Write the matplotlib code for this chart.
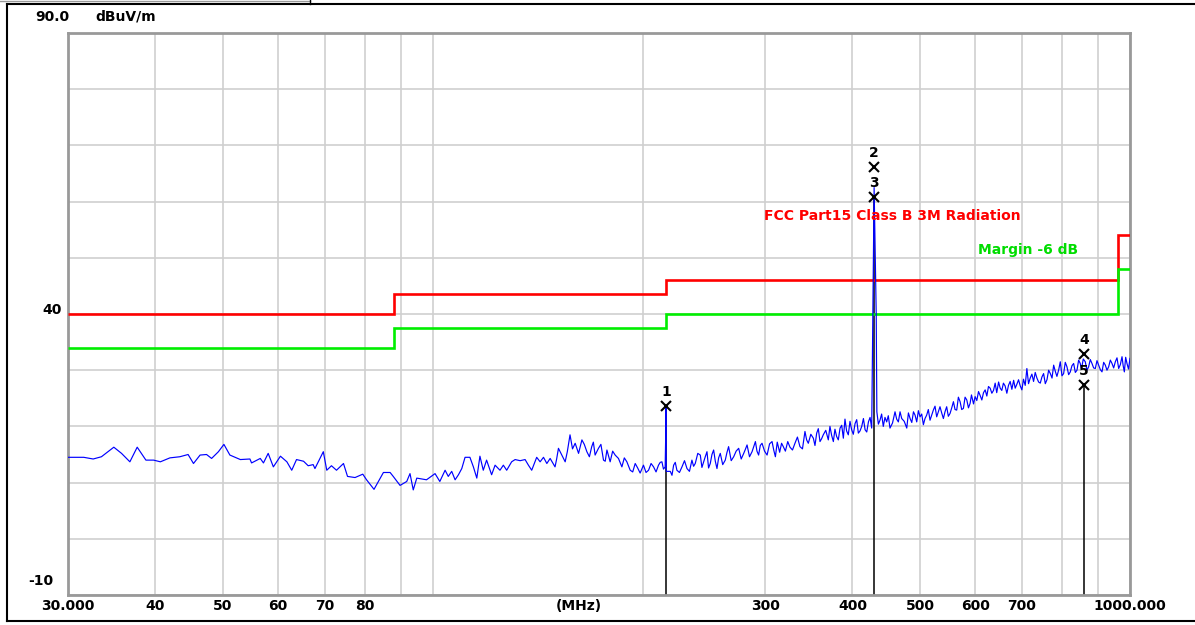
import matplotlib
matplotlib.use("Agg")
import matplotlib.pyplot as plt
import matplotlib.ticker as mticker
from matplotlib.lines import Line2D
import numpy as np

# ---------------- data ----------------
# measured trace, 30 - 102 MHz
freq_a = [30.0, 31.6, 32.6, 33.5, 34.9, 35.8, 36.8, 37.7, 38.8, 39.8,
          40.7, 42.0, 43.4, 44.6, 45.4, 46.4, 47.4, 48.2, 49.3, 50.2,
          51.2, 53.0, 54.7, 55.0, 56.6, 57.2, 58.1, 59.1, 60.5, 61.8,
          62.8, 63.8, 65.3, 66.3, 67.4, 67.8, 69.7, 70.5, 71.6, 72.8,
          74.5, 75.5, 77.4, 79.4, 80.4, 82.4, 85.0, 86.9, 87.8, 89.8,
          91.8, 92.8, 93.8, 94.9, 98.0, 100.8]
level_a = [14.5, 14.5, 14.2, 14.6, 16.3, 15.2, 13.7, 16.3, 14.0, 14.0,
           13.7, 14.4, 14.6, 15.0, 13.4, 14.9, 15.0, 14.3, 15.5, 16.8,
           14.9, 14.1, 14.2, 13.5, 14.3, 13.5, 15.2, 12.8, 14.7, 13.7,
           12.2, 14.1, 13.8, 13.0, 13.2, 12.5, 15.5, 12.2, 13.0, 12.2,
           13.4, 11.1, 10.9, 11.5, 10.5, 8.8, 11.8, 11.8, 11.1, 9.5,
           10.2, 11.6, 8.7, 10.8, 10.5, 11.6]

# measured trace, 102 - 310 MHz
freq_b = [102.4, 104.2, 105.3, 106.5, 107.7, 108.9, 110.1, 111.3, 113.1, 114.4,
          115.7, 116.9, 118.2, 119.5, 121.5, 122.9, 124.9, 126.3, 127.7, 129.8,
          131.3, 133.5, 135.7, 137.2, 138.7, 141.0, 142.6, 144.2, 145.8, 147.4,
          149.8, 151.5, 153.2, 154.9, 157.4, 160.1, 161.9, 163.7, 166.4, 169.1,
          171.0, 172.9, 175.8, 177.8, 179.7, 182.7, 184.7, 186.8, 189.9, 192.0,
          195.2, 198.4, 200.6, 204.0, 207.4, 210.8, 213.2, 215.5, 215.8, 216.0,
          216.3, 219.2, 221.6, 224.0, 227.8, 231.6, 235.4, 238.0, 242.0, 244.7,
          247.4, 250.1, 252.9, 255.7, 258.5, 262.8, 265.7, 270.2, 274.7, 279.3,
          282.4, 287.1, 290.3, 293.4, 296.7, 301.7, 306.7, 310.1]
level_b = [10.2, 12.2, 11.1, 12.0, 10.5, 11.4, 12.5, 14.5, 14.5, 12.8,
           10.8, 14.7, 12.2, 14.0, 11.4, 13.1, 12.2, 13.1, 12.2, 13.7,
           14.1, 13.9, 14.1, 13.1, 12.2, 14.5, 13.7, 14.5, 13.4, 14.3,
           12.8, 16.1, 14.9, 13.7, 18.5, 17.0, 15.2, 17.6, 15.5, 16.4,
           14.9, 16.1, 14.0, 15.8, 13.7, 14.9, 14.3, 12.8, 13.7, 12.2,
           13.4, 11.7, 13.1, 12.2, 12.8, 13.1, 13.7, 12.8, 17.2, 23.5,
           12.0, 12.0, 13.1, 12.2, 12.8, 12.5, 14.0, 13.4, 14.9, 13.7,
           15.5, 13.4, 15.8, 12.5, 15.2, 14.0, 16.4, 14.6, 16.1, 15.2,
           16.7, 15.5, 17.3, 14.9, 17.0, 14.9, 17.3, 14.6]

# measured trace, 318 - 1000 MHz
freq_c = [318.3, 325.4, 330.8, 336.3, 341.9, 345.7, 351.5, 355.4, 359.3, 363.2,
          369.3, 371.3, 375.5, 379.6, 383.9, 388.1, 390.2, 394.5, 398.9, 403.4,
          407.8, 412.4, 417.0, 421.6, 426.2, 429.6, 432.6, 433.5, 438.0, 442.8,
          447.8, 452.7, 460.3, 465.4, 470.6, 478.5, 483.8, 489.2, 494.5, 500.0,
          505.5, 511.0, 516.7, 522.4, 528.2, 534.0, 540.0, 545.9, 552.0, 558.2,
          564.3, 570.6, 576.9, 583.4, 589.8, 599.7, 606.4, 613.1, 619.9, 626.7,
          633.7, 640.7, 651.4, 658.4, 665.9, 673.2, 684.5, 692.1, 699.8, 711.4,
          719.3, 727.3, 735.4, 743.6, 751.8, 760.2, 768.7, 777.2, 785.6, 794.4,
          803.2, 812.1, 821.1, 830.2, 839.4, 848.5, 862.7, 872.3, 882.0, 891.8,
          901.7, 911.7, 921.8, 931.9, 942.3, 952.7, 963.3, 974.0, 981.5, 990.1,
          1000.0]
level_c = [16.4, 16.3, 17.0, 16.4, 19.1, 17.0, 17.9, 18.8, 17.3, 18.5,
           17.6, 20.0, 17.3, 18.2, 19.7, 17.9, 21.3, 18.5, 19.4, 20.5,
           18.8, 20.0, 19.4, 20.8, 19.7, 62.5, 40.0, 22.6, 21.1, 20.0,
           20.8, 19.7, 22.6, 20.8, 21.4, 19.7, 21.4, 22.6, 20.8, 21.7,
           20.3, 22.0, 21.1, 22.9, 21.7, 23.5, 21.4, 23.5, 22.3, 24.4,
           22.9, 24.4, 23.2, 24.7, 24.1, 25.3, 26.2, 24.7, 26.5, 27.1,
           25.9, 27.7, 26.8, 27.7, 25.9, 28.0, 26.8, 28.3, 26.5, 30.3,
           28.6, 28.0, 28.6, 27.7, 29.4, 28.3, 29.4, 30.9, 28.9, 31.5,
           29.4, 30.6, 29.7, 31.2, 30.0, 31.2, 31.5, 30.6, 31.2, 30.3,
           30.9, 29.7, 30.9, 30.6, 31.2, 31.5, 30.3, 32.4, 29.7, 31.2,
           32.1]

# extra trace samples read between the points above (dense noisy part)
freq_d = [150.6, 156.0, 158.7, 165.0, 167.8, 170.0, 174.3, 176.8, 181.2, 188.3,
          193.6, 196.8, 202.3, 205.7, 209.1, 212.0, 214.3, 220.4, 222.8, 225.9,
          229.7, 233.5, 236.7, 240.0, 243.3, 246.0, 248.7, 251.5, 254.3, 257.1,
          260.6, 264.2, 268.0, 272.4, 277.0, 280.8, 284.7, 288.7, 291.8, 295.0,
          299.2, 304.2, 308.4, 312.0, 314.5, 316.5, 320.5, 323.0, 328.1, 333.5,
          339.1, 343.8, 348.6, 353.4, 357.3, 361.2, 366.2, 373.4, 377.5, 381.7,
          386.0, 392.3, 396.7, 401.1, 405.6, 410.1, 414.7, 419.3, 423.9, 435.7,
          440.4, 445.3, 450.2, 456.5, 462.8, 468.0, 474.5, 481.1, 486.5, 491.8,
          497.2, 502.7, 508.2, 513.8, 519.5, 525.3, 531.1, 537.0, 542.9, 548.9,
          555.1, 561.2, 567.4, 573.7, 580.1, 586.6, 592.5, 596.5, 603.0, 609.7,
          616.5, 623.3, 630.2, 637.2, 644.0, 648.0, 654.9, 662.1, 669.5, 677.0,
          681.0, 688.3, 696.0, 703.5, 707.5, 715.3, 723.3, 731.3, 739.5, 747.7,
          756.0, 764.4, 773.0, 781.4, 790.0, 798.8, 807.6, 816.6, 825.6, 834.8,
          844.0, 852.0, 857.0, 867.5, 877.1, 886.9, 896.7, 906.7, 916.7, 926.8,
          937.1, 947.5, 958.0, 968.6, 977.7, 985.8, 995.0]
level_d = [14.2, 15.5, 16.0, 16.8, 14.6, 17.2, 16.8, 13.8, 15.6, 14.4,
           11.9, 12.6, 11.8, 13.4, 11.9, 13.6, 12.4, 11.3, 13.6, 11.8,
           13.9, 12.0, 12.9, 15.2, 12.7, 14.6, 12.6, 15.0, 13.8, 14.4,
           13.2, 15.3, 13.9, 15.6, 14.2, 15.9, 14.6, 16.4, 15.6, 16.6,
           15.6, 16.9, 15.8, 17.2, 15.4, 17.0, 15.6, 17.3, 15.8, 18.1,
           16.0, 17.6, 18.6, 16.6, 19.6, 17.8, 19.3, 18.4, 19.5, 17.6,
           20.2, 19.2, 20.9, 18.6, 21.2, 19.2, 21.4, 19.0, 21.6, 20.4,
           22.2, 21.6, 21.9, 20.6, 21.3, 22.6, 20.9, 22.4, 20.7, 22.0,
           22.8, 22.2, 21.4, 23.0, 22.0, 23.6, 22.6, 22.4, 22.6, 21.8,
           23.3, 23.0, 25.2, 23.0, 25.2, 23.3, 25.6, 24.0, 24.6, 25.5,
           26.0, 25.4, 26.8, 26.4, 26.0, 27.9, 26.4, 27.2, 27.3, 26.6,
           28.2, 27.5, 27.2, 28.4, 27.3, 27.6, 29.3, 29.6, 27.9, 28.8,
           27.6, 30.0, 28.6, 29.8, 30.0, 29.0, 31.4, 29.2, 30.8, 29.6,
           31.8, 30.2, 32.0, 30.0, 31.9, 30.4, 31.7, 30.1, 31.4, 30.0,
           31.8, 30.4, 32.2, 31.0, 30.8, 32.3, 30.2]

# limit line (FCC Part15 Class B 3 m) and margin
limit_edges = [30, 88, 216, 960, 1000]
limit_levels = [40.0, 43.5, 46.0, 54.0]
margin_db = 6.0

# markers
marker_ids = ["1", "2", "3", "4", "5"]
marker_freq = [216.0, 429.6, 429.6, 859.0, 859.0]
marker_level = [23.6, 66.2, 60.8, 32.9, 27.4]

# axis
x_grid = [30, 40, 50, 60, 70, 80, 90, 100, 200, 300, 400, 500, 600, 700, 800, 900, 1000]
x_labels = ["30.000", "40", "50", "60", "70", "80", "", "", "", "300", "400",
            "500", "600", "700", "", "", "1000.000"]
y_grid = [-10, 0, 10, 20, 30, 40, 50, 60, 70, 80, 90]

# ---------------- figure ----------------
W, H = 1195, 625
fig = plt.figure(figsize=(W / 100, H / 100), dpi=100)
fig.patch.set_facecolor("white")
ax = fig.add_axes([68 / W, 30 / H, (1130 - 68) / W, (595 - 33) / H])

ax.set_xscale("log")
ax.set_xlim(30, 1000)
ax.set_ylim(-10, 90)

ax.xaxis.set_major_locator(mticker.FixedLocator(x_grid))
ax.xaxis.set_major_formatter(mticker.FixedFormatter(x_labels))
ax.xaxis.set_minor_locator(mticker.NullLocator())
ax.set_yticks(y_grid)
ax.set_yticklabels([""] * len(y_grid))
ax.tick_params(axis="both", length=0)
ax.tick_params(axis="x", pad=3)
for lab in ax.get_xticklabels():
    lab.set_fontweight("bold")
    lab.set_fontsize(10)
    lab.set_family("DejaVu Sans")

ax.grid(True, color="#cfcfcf", linewidth=1.2, zorder=0)
ax.set_axisbelow(True)
for sp in ax.spines.values():
    sp.set_color("#999999")
    sp.set_linewidth(2.0)

# limit and margin lines
limit_arr = np.array(limit_levels)
ax.stairs(limit_arr, limit_edges, baseline=None, color="#ff0000", linewidth=1.9, zorder=3)
ax.stairs(limit_arr - margin_db, limit_edges, baseline=None, color="#00ee00", linewidth=1.9, zorder=3)

# marker drop lines (from bottom to lowest marker at that frequency)
groups = {}
for f, v in zip(marker_freq, marker_level):
    groups[f] = min(v, groups.get(f, 1e9))
for f, v in groups.items():
    ax.plot([f, f], [-10, v], color="black", linewidth=1.1, zorder=2)

# trace (all read samples merged in frequency order)
freq = np.array(freq_a + freq_b + freq_c + freq_d)
level = np.array(level_a + level_b + level_c + level_d)
order = np.argsort(freq, kind="stable")
ax.plot(freq[order], level[order], color="#0000ff", linewidth=0.85, zorder=4)

# markers
for mid, f, v in zip(marker_ids, marker_freq, marker_level):
    ax.plot([f], [v], marker="x", color="black", markersize=7, mew=1.5, zorder=6)
    ax.annotate(mid, xy=(f, v), xytext=(0, 10), textcoords="offset points",
                ha="center", va="center", fontsize=10, fontweight="bold",
                color="black", zorder=6)

# annotations
ax.text(299, 57.4, "FCC Part15 Class B 3M Radiation", color="#ff0000",
        fontsize=10, fontweight="bold", ha="left", va="center", zorder=5)
ax.text(605, 51.4, "Margin -6 dB", color="#00dd00",
        fontsize=10, fontweight="bold", ha="left", va="center", zorder=5)

ax.annotate("(MHz)", xy=(162, 0), xycoords=("data", "axes fraction"),
            xytext=(0, -3), textcoords="offset points", ha="center", va="top",
            fontsize=10, fontweight="bold")

# y labels
ax.annotate("40", xy=(0, 40), xycoords=("axes fraction", "data"),
            xytext=(-4.5, 3), textcoords="offset points", ha="right", va="center",
            fontsize=10, fontweight="bold")
ax.annotate("-10", xy=(0, -10), xycoords=("axes fraction", "data"),
            xytext=(-10.5, 10), textcoords="offset points", ha="right", va="center",
            fontsize=10, fontweight="bold")
fig.text(35 / W, 1 - 17 / H, "90.0", ha="left", va="center", fontsize=10, fontweight="bold")
fig.text(95 / W, 1 - 17 / H, "dBuV/m", ha="left", va="center", fontsize=10, fontweight="bold")

# outer frame
def fline(x0, y0, x1, y1, color="black", lw=1.5):
    fig.add_artist(Line2D([x0 / W, x1 / W], [1 - y0 / H, 1 - y1 / H],
                          transform=fig.transFigure, color=color, linewidth=lw))

fline(7, 4, W, 4)
fline(7, 4, 7, 621)
fline(7, 621, W, 621)
fline(0, 0.5, 310, 0.5, color="#999999", lw=1.0)
fline(310, 0, 310, 4, lw=1.0)

fig.savefig("out.png", dpi=100, facecolor="white")
